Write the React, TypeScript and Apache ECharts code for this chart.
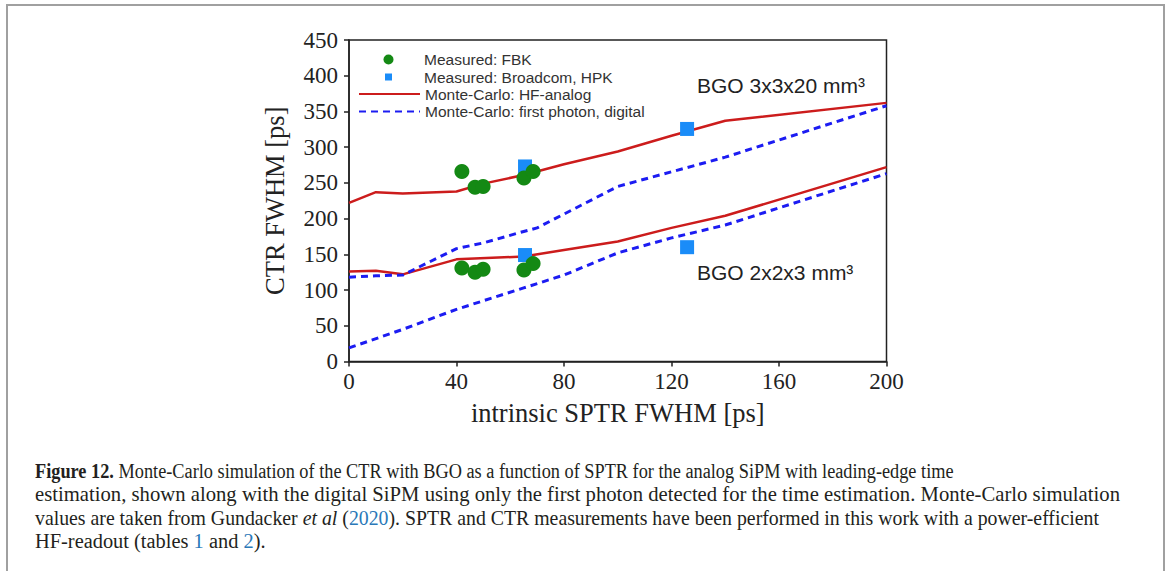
import React, { useEffect, useRef } from "react";
import * as echarts from "echarts";

// ---- data ----
const xTicks = [0, 40, 80, 120, 160, 200];
const yTicks = [0, 50, 100, 150, 200, 250, 300, 350, 400, 450];

const seriesNames = [
  "Measured: FBK",
  "Measured: Broadcom, HPK",
  "Monte-Carlo: HF-analog",
  "Monte-Carlo: first photon, digital",
];

const fbkSptr = [42, 46.9, 49.9, 65.1, 68.5, 42, 46.9, 49.9, 65.1, 68.5];
const fbkCtr = [266, 244, 245, 257, 266, 131, 125, 129, 128, 137];

const brdSptr = [65.5, 125.8, 65.5, 125.8];
const brdCtr = [273, 325.5, 149, 160];

const analogBigSptr = [0, 10, 20, 40, 50, 65, 80, 100, 120, 140, 200];
const analogBigCtr = [222, 237, 235, 238, 249, 261, 276, 294, 316, 337, 362];

const digitalBigSptr = [0, 10, 20, 40, 50, 65, 70, 100, 140, 200];
const digitalBigCtr = [118, 120, 121, 158, 166, 182, 187, 245, 286, 358];

const analogSmallSptr = [0, 10, 20, 40, 65, 80, 100, 120, 140, 200];
const analogSmallCtr = [126, 127, 122, 143, 147, 156, 168, 187, 204, 272];

const digitalSmallSptr = [0, 20, 40, 65, 80, 100, 120, 140, 200];
const digitalSmallCtr = [19, 45, 73, 103, 121, 152, 173, 191, 263];

const crystalLabels = ["BGO 3x3x20 mm³", "BGO 2x2x3 mm³"];

const captionLines = [
  "{b|Figure 12.} Monte-Carlo simulation of the CTR with BGO as a function of SPTR for the analog SiPM with leading-edge time",
  "estimation, shown along with the digital SiPM using only the first photon detected for the time estimation. Monte-Carlo simulation",
  "values are taken from Gundacker {i|et al} ({l|2020}). SPTR and CTR measurements have been performed in this work with a power-efficient",
  "HF-readout (tables {l|1} and {l|2}).",
];

const zip = (xs: number[], ys: number[]) => xs.map((x, i) => [x, ys[i]]);

const SERIF = "'Liberation Serif', 'Times New Roman', serif";
const SANS = "'Liberation Sans', Arial, sans-serif";

const RED = "#cc1c1c";
const BLUE_DASH = "#1c1cf2";
const GREEN = "#148914";
const BLUE_SQ = "#1a8cf8";

// layout-only: horizontal squeeze of each caption line
const captionScale = [0.915, 1.035, 0.99, 1.02];

// legend icons: invisible moveTo corners span the whole 61px icon box so the
// visible mark sits in the middle of it, like in the reference
const LEGEND_W = 61;
const circleIcon = "path://M0,0M61,10M25.5,5A5,5,0,1,1,35.5,5A5,5,0,1,1,25.5,5Z";
const squareIcon = "path://M0,0M61,8M27,0.5L34,0.5L34,7.5L27,7.5Z";

export default function App() {
  const ref = useRef<HTMLDivElement>(null);

  useEffect(() => {
    document.body.style.margin = "0";
    const chart = echarts.init(ref.current!, null, { renderer: "svg" });

    const legendRow = (item: any, top: number, itemHeight: number, hideSymbol: boolean) => ({
      data: [item],
      orient: "vertical",
      left: 358,
      top,
      padding: 0,
      itemGap: 0,
      itemWidth: LEGEND_W,
      itemHeight,
      selectedMode: false,
      symbolKeepAspect: false,
      itemStyle: hideSymbol
        ? { color: "rgba(0,0,0,0)", borderColor: "rgba(0,0,0,0)", borderWidth: 0, opacity: 0 }
        : {},
      textStyle: {
        fontFamily: SANS,
        fontSize: 15.5,
        color: "#333",
        lineHeight: 16,
      },
    });

    const option: any = {
      animation: false,
      backgroundColor: "#ffffff",
      grid: {
        left: 349,
        top: 40,
        right: 1170 - 886.5,
        bottom: 571 - 361.5,
        show: true,
        borderColor: "#222",
        borderWidth: 1.5,
        containLabel: false,
      },
      legend: [
        legendRow({ name: seriesNames[0], icon: circleIcon }, 59.5 - 8, 10, false),
        legendRow({ name: seriesNames[1], icon: squareIcon }, 77 - 8, 8, false),
        legendRow({ name: seriesNames[2] }, 94 - 8, 12, true),
        legendRow({ name: seriesNames[3] }, 111.5 - 8, 12, true),
      ],
      xAxis: {
        type: "value",
        min: xTicks[0],
        max: xTicks[xTicks.length - 1],
        interval: xTicks[1] - xTicks[0],
        name: "intrinsic SPTR FWHM [ps]",
        nameLocation: "middle",
        nameGap: 38,
        nameTextStyle: { fontFamily: SERIF, fontSize: 26.5, color: "#222" },
        axisLine: { show: true, lineStyle: { color: "#222", width: 1.5 } },
        axisTick: { show: true, length: 5, lineStyle: { color: "#222", width: 1.5 } },
        axisLabel: { fontFamily: SERIF, fontSize: 23, color: "#222", margin: 8 },
        splitLine: { show: false },
      },
      yAxis: {
        type: "value",
        min: yTicks[0],
        max: yTicks[yTicks.length - 1],
        interval: yTicks[1] - yTicks[0],
        name: "CTR FWHM [ps]",
        nameLocation: "middle",
        nameRotate: 90,
        nameGap: 61,
        nameTextStyle: { fontFamily: SERIF, fontSize: 26.5, color: "#222" },
        axisLine: { show: true, lineStyle: { color: "#222", width: 1.5 } },
        axisTick: { show: true, length: 5, lineStyle: { color: "#222", width: 1.5 } },
        axisLabel: { fontFamily: SERIF, fontSize: 23, color: "#222", margin: 11 },
        splitLine: { show: false },
      },
      series: [
        {
          name: seriesNames[2],
          type: "line",
          data: zip(analogBigSptr, analogBigCtr),
          symbol: "none",
          lineStyle: { color: RED, width: 2.5 },
          itemStyle: { color: RED },
          z: 2,
        },
        {
          name: seriesNames[2],
          type: "line",
          data: zip(analogSmallSptr, analogSmallCtr),
          symbol: "none",
          lineStyle: { color: RED, width: 2.5 },
          itemStyle: { color: RED },
          z: 2,
        },
        {
          name: seriesNames[3],
          type: "line",
          data: zip(digitalBigSptr, digitalBigCtr),
          symbol: "none",
          lineStyle: { color: BLUE_DASH, width: 3, type: [7, 5] },
          itemStyle: { color: BLUE_DASH },
          z: 2,
        },
        {
          name: seriesNames[3],
          type: "line",
          data: zip(digitalSmallSptr, digitalSmallCtr),
          symbol: "none",
          lineStyle: { color: BLUE_DASH, width: 3, type: [7, 5] },
          itemStyle: { color: BLUE_DASH },
          z: 2,
        },
        {
          name: seriesNames[1],
          type: "scatter",
          data: zip(brdSptr, brdCtr),
          symbol: "rect",
          symbolSize: 14,
          itemStyle: { color: BLUE_SQ, opacity: 1 },
          z: 3,
        },
        {
          name: seriesNames[0],
          type: "scatter",
          data: zip(fbkSptr, fbkCtr),
          symbol: "circle",
          symbolSize: 15,
          itemStyle: { color: GREEN, opacity: 1 },
          z: 4,
        },
      ],
      graphic: [
        {
          type: "rect",
          shape: { x: 7, y: 5, width: 1157, height: 620 },
          style: { fill: "none", stroke: "#a0a0a0", lineWidth: 2 },
          silent: true,
          z: -1,
        },
        {
          type: "text",
          x: 697,
          y: 85,
          style: {
            text: crystalLabels[0],
            fontFamily: SANS,
            fontSize: 21,
            fill: "#222",
            verticalAlign: "middle",
          },
        },
        {
          type: "text",
          x: 697,
          y: 272,
          style: {
            text: crystalLabels[1],
            fontFamily: SANS,
            fontSize: 21,
            fill: "#222",
            verticalAlign: "middle",
          },
        },
        ...captionLines.map((line, i) => ({
          type: "text",
          x: 35,
          y: 471 + i * 23.5,
          scaleX: captionScale[i],
          style: {
            text: line,
            fontFamily: SERIF,
            fontSize: 20,
            fill: "#231f20",
            verticalAlign: "middle",
            rich: {
              b: { fontFamily: SERIF, fontSize: 20, fontWeight: "bold", fill: "#231f20" },
              i: { fontFamily: SERIF, fontSize: 20, fontStyle: "italic", fill: "#231f20" },
              l: { fontFamily: SERIF, fontSize: 20, fill: "#2a78b8" },
            },
          },
        })),
      ],
    };

    chart.setOption(option);
    return () => chart.dispose();
  }, []);

  return <div ref={ref} style={{ width: 1170, height: 571 }} />;
}
